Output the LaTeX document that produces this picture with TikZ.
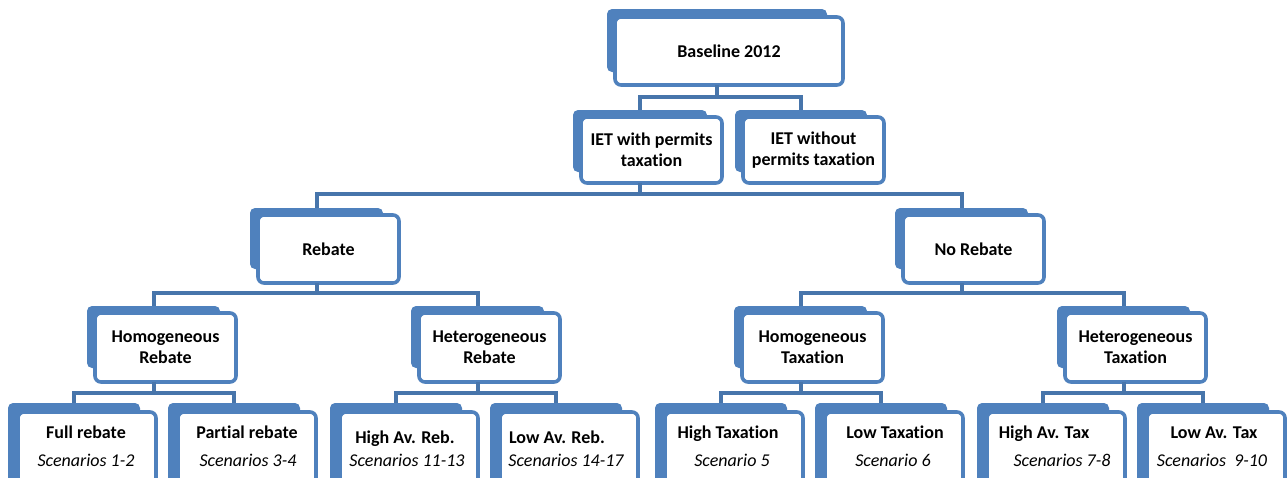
\documentclass[tikz,border=0pt]{standalone}
\usepackage{fontspec}
\setmainfont{Carlito}[Ligatures=NoCommon]
\definecolor{sablue}{HTML}{4F81BD}
\definecolor{linkblue}{HTML}{4775AB}
\begin{document}
\begin{tikzpicture}[x=1pt,y=-1pt,
  back/.style={rectangle, rounded corners=5pt, fill=sablue, minimum width=133pt, minimum height=62pt, anchor=north west, inner sep=0pt, outer sep=0pt},
  front/.style={rectangle, rounded corners=6pt, draw=sablue, line width=3.6pt, fill=white, minimum width=141pt, minimum height=68pt, anchor=north west, inner sep=0pt, outer sep=0pt, align=center, font=\bfseries\fontsize{18}{21}\selectfont},
  lowback/.style={back, minimum width=132pt, minimum height=90pt},
  lowfront/.style={front, minimum width=138pt, minimum height=90pt},
  ttl/.style={anchor=base, inner sep=0pt, font=\bfseries\fontsize{18}{21}\selectfont},
  scn/.style={anchor=base, inner sep=0pt, font=\itshape\fontsize{18}{21}\selectfont},
  link/.style={draw=linkblue, line width=4pt}]
\useasboundingbox (0,0) rectangle (1287,477);
\clip (0,0) rectangle (1287,477);
% level 0
\node[back, minimum width=220pt, minimum height=63pt] (b0) at (607,9) {};
\node[front, minimum width=228pt] (f0) at (615,17) {Baseline 2012};
% level 1
\node[back, minimum width=134pt] (b1a) at (573,110) {};
\node[front, minimum height=66pt] (f1a) at (581,117) {IET with permits\\taxation};
\node[back, minimum width=132pt] (b1b) at (735,110) {};
\node[front, minimum height=66pt] (f1b) at (743,117) {IET without\\permits taxation};
% level 2
\node[back, minimum height=61pt] (b2a) at (250,208) {};
\node[front] (f2a) at (258,215) {Rebate};
\node[back, minimum height=61pt] (b2b) at (895,208) {};
\node[front] (f2b) at (903,215) {No Rebate};
% level 3
\node[back] (b3a) at (87,306) {};
\node[front, minimum height=69pt] (f3a) at (95,313) {Homogeneous\\Rebate};
\node[back] (b3b) at (411,306) {};
\node[front, minimum height=69pt] (f3b) at (419,313) {Heterogeneous\\Rebate};
\node[back] (b3c) at (734,306) {};
\node[front, minimum height=69pt] (f3c) at (742,313) {Homogeneous\\Taxation};
\node[back] (b3d) at (1057,306) {};
\node[front, minimum height=69pt] (f3d) at (1065,313) {Heterogeneous\\Taxation};
% level 4
\node[lowback] (b4a) at (8,403) {};
\node[lowfront] (f4a) at (18,412) {};
\node[lowback] (b4b) at (168,403) {};
\node[lowfront] (f4b) at (178,412) {};
\node[lowback] (b4c) at (330,403) {};
\node[lowfront] (f4c) at (340,412) {};
\node[lowback] (b4d) at (490,403) {};
\node[lowfront] (f4d) at (500,412) {};
\node[lowback] (b4e) at (655,403) {};
\node[lowfront] (f4e) at (665,412) {};
\node[lowback] (b4f) at (815,403) {};
\node[lowfront] (f4f) at (825,412) {};
\node[lowback] (b4g) at (977,403) {};
\node[lowfront] (f4g) at (987,412) {};
\node[lowback] (b4h) at (1137,403) {};
\node[lowfront] (f4h) at (1147,412) {};
% level 4 texts
\node[ttl] (t4a) at (86,438) {Full rebate};
\node[scn] (s4a) at (86,466) {Scenarios 1-2};
\node[ttl] (t4b) at (247,438) {Partial rebate};
\node[scn] (s4b) at (248,466) {Scenarios 3-4};
\node[ttl] (t4c) at (405,443) {High Av. Reb.};
\node[scn] (s4c) at (407,466) {Scenarios 11-13};
\node[ttl] (t4d) at (557,443) {Low Av. Reb.};
\node[scn] (s4d) at (566,466) {Scenarios 14-17};
\node[ttl] (t4e) at (728,438) {High Taxation};
\node[scn] (s4e) at (732,466) {Scenario 5};
\node[ttl] (t4f) at (895,438) {Low Taxation};
\node[scn] (s4f) at (893,466) {Scenario 6};
\node[ttl] (t4g) at (1044,438) {High Av. Tax};
\node[scn] (s4g) at (1062,466) {Scenarios 7-8};
\node[ttl] (t4h) at (1214,438) {Low Av. Tax};
\node[scn] (s4h) at (1212,466) {Scenarios\ \ 9-10};
% connectors
\draw[link] (b0.south |- f0.south) -- ++(0,12) -| (b1a.north);
\draw[link] (b0.south |- f0.south) -- ++(0,12) -| (b1b.north);
\draw[link] (b1a.south |- f1a.south) -- ++(0,11) -| (b2a.north);
\draw[link] (b1a.south |- f1a.south) -- ++(0,11) -| (b2b.north);
\draw[link] (b2a.south |- f2a.south) -- ++(0,10) -| (b3a.north);
\draw[link] (b2a.south |- f2a.south) -- ++(0,10) -| (b3b.north);
\draw[link] (b2b.south |- f2b.south) -- ++(0,10) -| (b3c.north);
\draw[link] (b2b.south |- f2b.south) -- ++(0,10) -| (b3d.north);
\draw[link] (b3a.south |- f3a.south) -- ++(0,11) -| (b4a.north);
\draw[link] (b3a.south |- f3a.south) -- ++(0,11) -| (b4b.north);
\draw[link] (b3b.south |- f3b.south) -- ++(0,11) -| (b4c.north);
\draw[link] (b3b.south |- f3b.south) -- ++(0,11) -| (b4d.north);
\draw[link] (b3c.south |- f3c.south) -- ++(0,11) -| (b4e.north);
\draw[link] (b3c.south |- f3c.south) -- ++(0,11) -| (b4f.north);
\draw[link] (b3d.south |- f3d.south) -- ++(0,11) -| (b4g.north);
\draw[link] (b3d.south |- f3d.south) -- ++(0,11) -| (b4h.north);
\end{tikzpicture}
\end{document}
